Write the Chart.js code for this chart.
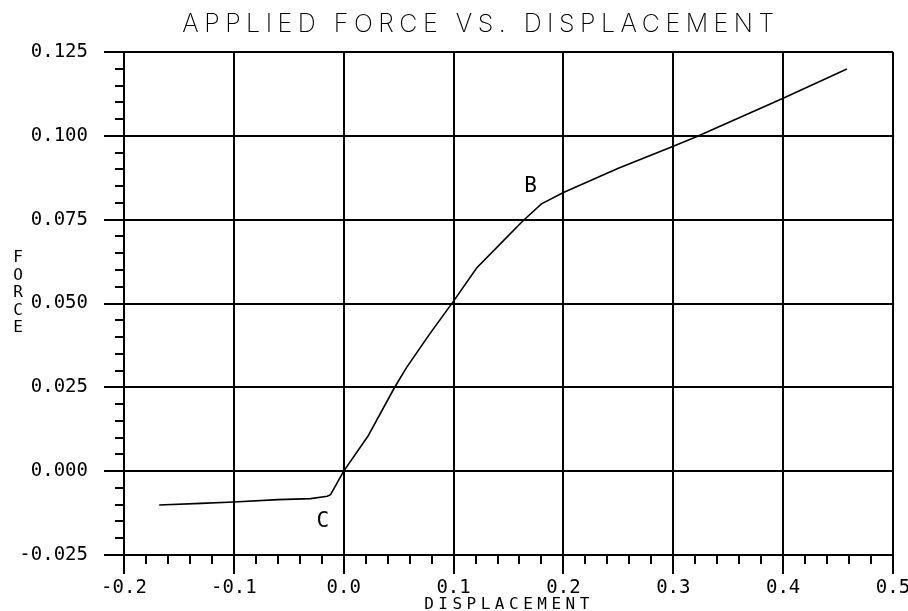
<!DOCTYPE html>
<html>
<head>
<meta charset="utf-8">
<style>
  html, body { margin: 0; padding: 0; background: #fff; }
  #wrap { width: 908px; height: 611px; }
</style>
<script src="https://cdn.jsdelivr.net/npm/chart.js@4"></script>
</head>
<body>
<div id="wrap"><canvas id="forceChart" width="908" height="611"></canvas></div>
<script>
// data
const displacement = [-0.168, -0.13, -0.1, -0.06, -0.03, -0.015, -0.012, 0.0, 0.022, 0.046, 0.057, 0.078, 0.1, 0.121, 0.145, 0.163, 0.18, 0.2, 0.25, 0.3, 0.32, 0.4, 0.458];
const force = [-0.0101, -0.0096, -0.0092, -0.0085, -0.0082, -0.0075, -0.007, 0.0, 0.0104, 0.0248, 0.0308, 0.0408, 0.0507, 0.0606, 0.0686, 0.0746, 0.0797, 0.0831, 0.0903, 0.0969, 0.0996, 0.1112, 0.1199];

const pointNames = ["B", "C"];
const pointX = [0.170, -0.019];
const pointY = [0.085, -0.0149];

const chartTitle = "APPLIED FORCE VS. DISPLACEMENT";
const xTitle = "DISPLACEMENT";
const yTitle = "FORCE";

const xMin = -0.2, xMax = 0.5, xStep = 0.1, xMinorStep = 0.02;
const yMin = -0.025, yMax = 0.125, yStep = 0.025, yMinorStep = 0.005;

const TICK_FONT = "DejaVu Sans Mono";

function fmt(v, d) {
    if (Math.abs(v) < 1e-9) v = 0;
    return v.toFixed(d);
}

// titles, point letters and minor ticks
const extras = {
    id: "extras",
    afterDraw(chart) {
        const ctx = chart.ctx;
        const xs = chart.scales.x, ys = chart.scales.y;
        const area = chart.chartArea;
        ctx.save();
        ctx.strokeStyle = "#000";
        ctx.lineWidth = 2;

        // minor ticks
        ctx.beginPath();
        for (let i = 1; i < Math.round((yMax - yMin) / yMinorStep); i++) {
            if (i % 5 === 0) continue;
            const py = Math.round(ys.getPixelForValue(yMin + i * yMinorStep));
            ctx.moveTo(area.left - 9, py);
            ctx.lineTo(area.left, py);
        }
        for (let i = 1; i < Math.round((xMax - xMin) / xMinorStep); i++) {
            if (i % 5 === 0) continue;
            const px = Math.round(xs.getPixelForValue(xMin + i * xMinorStep));
            ctx.moveTo(px, area.bottom);
            ctx.lineTo(px, area.bottom + 9);
        }
        ctx.stroke();

        ctx.fillStyle = "#000";
        ctx.textAlign = "center";
        ctx.textBaseline = "middle";

        // title
        ctx.font = "200 25px Inter";
        ctx.letterSpacing = "5.5px";
        ctx.fillText(chartTitle, 481, 24);

        // axis titles
        ctx.font = "16px " + TICK_FONT;
        ctx.letterSpacing = "4.5px";
        ctx.fillText(xTitle, 509, 605);
        ctx.letterSpacing = "0px";
        ctx.font = "16px " + TICK_FONT;
        for (let i = 0; i < yTitle.length; i++) {
            ctx.fillText(yTitle[i], 18, 258 + i * 17.5);
        }

        // B and C
        ctx.font = "21px " + TICK_FONT;
        for (let i = 0; i < pointNames.length; i++) {
            ctx.fillText(pointNames[i], xs.getPixelForValue(pointX[i]), ys.getPixelForValue(pointY[i]));
        }
        ctx.restore();
    }
};

new Chart(document.getElementById("forceChart"), {
    type: "scatter",
    data: {
        datasets: [{
            data: displacement.map((x, i) => ({ x: x, y: force[i] })),
            showLine: true,
            borderColor: "#000",
            borderWidth: 1.6,
            pointRadius: 0,
            tension: 0
        }]
    },
    options: {
        responsive: false,
        animation: false,
        layout: { padding: { top: 52, right: 15, left: 0, bottom: 0 } },
        plugins: {
            legend: { display: false },
            tooltip: { enabled: false }
        },
        scales: {
            x: {
                type: "linear",
                min: xMin,
                max: xMax,
                afterFit(scale) {
                    scale.height = 56;
                    scale.paddingLeft = 0;
                    scale.paddingRight = 0;
                },
                ticks: {
                    stepSize: xStep,
                    padding: 3,
                    color: "#000",
                    font: { family: TICK_FONT, size: 19 },
                    callback: v => fmt(v, 1),
                    maxRotation: 0
                },
                grid: { color: "#000", lineWidth: 2, tickLength: 19 },
                border: { color: "#000", width: 2 }
            },
            y: {
                min: yMin,
                max: yMax,
                afterFit(scale) {
                    scale.width = 124;
                    scale.paddingTop = 0;
                    scale.paddingBottom = 0;
                },
                ticks: {
                    stepSize: yStep,
                    padding: 16,
                    color: "#000",
                    font: { family: TICK_FONT, size: 19 },
                    callback: v => fmt(v, 3)
                },
                grid: { color: "#000", lineWidth: 2, tickLength: 20 },
                border: { color: "#000", width: 2 }
            }
        }
    },
    plugins: [extras]
});
</script>
</body>
</html>
